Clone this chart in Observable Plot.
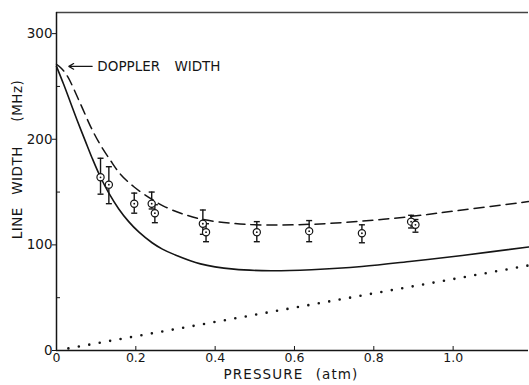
<!DOCTYPE html>
<html><head><meta charset="utf-8">
<script src="https://cdn.jsdelivr.net/npm/d3@7"></script>
<script src="https://cdn.jsdelivr.net/npm/@observablehq/plot@0.6"></script>
<style>body{margin:0;background:#fff}#chart svg{display:block}</style>
</head><body><div id="chart"></div>
<script>
// Solid curve (theory)
const solidP = [0, 0.018, 0.035, 0.052, 0.073, 0.09, 0.111, 0.132, 0.157, 0.182, 0.208, 0.241, 0.267, 0.296, 0.363, 0.447, 0.54, 0.643, 0.77, 0.896, 1.023, 1.19];
const solidV = [269, 252, 235, 218, 198, 182, 164, 149, 134, 122, 112, 102, 96, 91, 82, 77, 75.5, 76.5, 79.5, 84.5, 90, 98];
// Dashed curve
const dashedP = [0, 0.01, 0.027, 0.061, 0.086, 0.107, 0.136, 0.161, 0.195, 0.241, 0.271, 0.317, 0.37, 0.44, 0.52, 0.643, 0.77, 0.896, 1.023, 1.19];
const dashedV = [271, 268, 260, 233, 212, 197, 180, 167, 155, 143, 136.5, 129.5, 124, 120.5, 118.8, 119.5, 122.5, 127, 133, 141];
// Dotted line
const dottedP = [0.03, 1.19];
const dottedV = [2, 80.5];
// Measured points with error bars
const obsP  = [0.111, 0.132, 0.196, 0.240, 0.248, 0.369, 0.377, 0.505, 0.637, 0.770, 0.894, 0.905];
const obsV  = [164, 157, 139, 139, 130, 120, 112, 112, 113, 111, 122, 119];
const obsHi = [182, 174, 149, 150, 138, 133, 120, 122, 123, 119, 128, 124];
const obsLo = [148, 139, 130, 134, 121, 110, 103, 103, 103, 102, 116, 112];
// Axes
const xDomain = [0, 1.19];
const yDomain = [0, 320];
const xTicks = [0, 0.2, 0.4, 0.6, 0.8, 1.0];
const xTickLabels = ["0", "0.2", "0.4", "0.6", "0.8", "1.0"];
const yTicks = [0, 100, 200, 300];
const yTickLabels = ["0", "100", "200", "300"];
const yMinorTicks = [50, 150, 250];
const xLabel = "PRESSURE (atm)";
const yLabel = "LINE WIDTH  (MHz)";
// Annotation
const dopplerLabel = "DOPPLER WIDTH";
const dopplerWidth = 269;
const arrowFrom = 0.09, arrowTo = 0.031, labelAt = 0.103;

const ink = "#151515";
const solid = solidP.map((p, i) => ({p, v: solidV[i]}));
const dashed = dashedP.map((p, i) => ({p, v: dashedV[i]}));
const dotted = dottedP.map((p, i) => ({p, v: dottedV[i]}));
const obs = obsP.map((p, i) => ({p, v: obsV[i], lo: obsLo[i], hi: obsHi[i]}));
const capSymbol = {draw(ctx, size) { const w = Math.sqrt(size / Math.PI); ctx.moveTo(-w, 0); ctx.lineTo(w, 0); }};

const chart = Plot.plot({
  width: 529, height: 385,
  marginLeft: 56, marginRight: 1, marginTop: 12, marginBottom: 35,
  x: {domain: xDomain}, y: {domain: yDomain},
  style: {fontFamily: "DejaVu Sans, sans-serif", color: ink, background: "#fff"},
  marks: [
    Plot.ruleY([yDomain[0]], {stroke: ink, strokeWidth: 1.5}),
    Plot.ruleY([yDomain[1]], {stroke: ink, strokeWidth: 1.3, strokeOpacity: 0.8}),
    Plot.ruleX([xDomain[0]], {stroke: ink, strokeWidth: 1.5}),
    Plot.axisY({ticks: yTicks, tickSize: 4, tickPadding: 0, tickFormat: (d, i) => yTickLabels[i], fontSize: 13.5, label: null, stroke: ink}),
    Plot.axisY({ticks: yMinorTicks, tickSize: -4, tickFormat: () => "", label: null, stroke: ink}),
    Plot.axisX({ticks: xTicks, tickSize: -4, tickPadding: 7, tickFormat: (d, i) => xTickLabels[i], fontSize: 12.5, label: null, stroke: ink}),
    Plot.text([xLabel], {frameAnchor: "bottom", dx: -1.5, dy: 28, fontSize: 13.5, fill: ink}),
    Plot.text([yLabel], {frameAnchor: "left", textAnchor: "middle", dx: -39, dy: -22, rotate: -90, fontSize: 13.5, fill: ink}),
    Plot.line(dotted, {x: "p", y: "v", stroke: ink, strokeWidth: 2.6, strokeLinecap: "round", strokeDasharray: "0,10.6"}),
    Plot.line(solid, {x: "p", y: "v", stroke: ink, strokeWidth: 1.6, curve: "catmull-rom"}),
    Plot.line(dashed, {x: "p", y: "v", stroke: ink, strokeWidth: 1.5, strokeDasharray: "10,6", curve: "catmull-rom"}),
    Plot.ruleX(obs, {x: "p", y1: "lo", y2: "hi", stroke: ink, strokeWidth: 1.4}),
    Plot.dot(obs, {x: "p", y: "hi", symbol: capSymbol, r: 3, stroke: ink, strokeWidth: 1.4, fill: "none"}),
    Plot.dot(obs, {x: "p", y: "lo", symbol: capSymbol, r: 3, stroke: ink, strokeWidth: 1.4, fill: "none"}),
    Plot.dot(obs, {x: "p", y: "v", r: 3.6, stroke: ink, strokeWidth: 1.2, fill: "#fff"}),
    Plot.dot(obs, {x: "p", y: "v", r: 0.9, fill: ink, stroke: null}),
    Plot.arrow([{x1: arrowFrom, x2: arrowTo, y: dopplerWidth}], {x1: "x1", x2: "x2", y1: "y", y2: "y", stroke: ink, strokeWidth: 1.2, headLength: 7}),
    Plot.text([dopplerLabel], {x: labelAt, y: dopplerWidth, textAnchor: "start", fontSize: 13.5, fill: ink})
  ]
});
const pick = (s) => d3.select(chart).selectAll("text").filter(function() { return this.textContent === s; });
pick(xLabel).style("letter-spacing", "1.1px").style("word-spacing", "7px");
pick(yLabel).style("white-space", "pre").style("letter-spacing", "0.5px").style("word-spacing", "7.5px");
pick(dopplerLabel).style("word-spacing", "10px");
document.getElementById("chart").appendChild(chart);
</script>
</body></html>
